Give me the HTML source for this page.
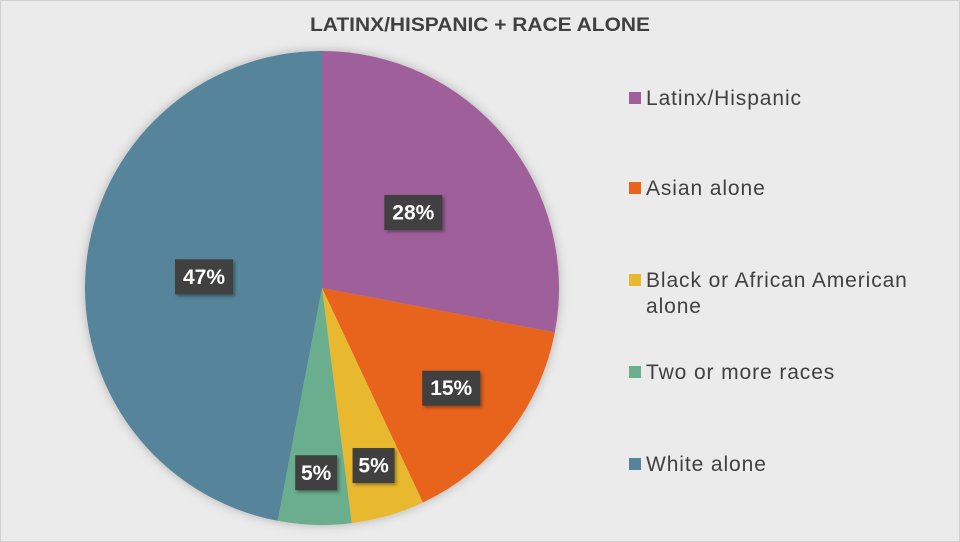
<!DOCTYPE html>
<html><head><meta charset="utf-8"><style>
html,body{margin:0;padding:0;background:#fff}
svg{display:block;font-family:"Liberation Sans",sans-serif}
</style></head><body>
<svg id="chart" width="960" height="542" viewBox="0 0 960 542">
<defs>
<filter id="sh" x="-20%" y="-20%" width="150%" height="150%"><feDropShadow dx="2" dy="2" stdDeviation="1.5" flood-color="#000" flood-opacity="0.35"/></filter>
<filter id="psh" x="-10%" y="-10%" width="120%" height="120%"><feDropShadow dx="0" dy="0" stdDeviation="5" flood-color="#000" flood-opacity="0.25"/></filter>
</defs>
<rect x="0.5" y="0.5" width="959" height="541" fill="#EBEBEB" stroke="#D0D0D0"/>
<text x="480" y="31" text-anchor="middle" font-size="19" font-weight="bold" fill="#404040" textLength="340" lengthAdjust="spacingAndGlyphs">LATINX/HISPANIC + RACE ALONE</text>
<g id="slices" filter="url(#psh)"></g>
<g id="labels"></g>
<g id="legend"></g>
</svg>
<script>
const categories = ["Latinx/Hispanic","Asian alone","Black or African American alone","Two or more races","White alone"];
const values = [28, 15, 5, 5, 47];
const valueLabels = ["28%","15%","5%","5%","47%"];
const colors = ["#9E5E9B","#E8641B","#E8B92E","#6AAE8E","#55849B"];
const NS="http://www.w3.org/2000/svg";
const cx=322, cy=288, r=237;
const total=values.reduce((a,b)=>a+b,0);
function pt(a,rad){return [cx+rad*Math.sin(a), cy-rad*Math.cos(a)];}
const gS=document.getElementById('slices'), gL=document.getElementById('labels'), gG=document.getElementById('legend');
let acc=0;
values.forEach((v,i)=>{
  const a0=acc/total*2*Math.PI, a1=(acc+v)/total*2*Math.PI; acc+=v;
  const p0=pt(a0,r), p1=pt(a1,r), large=(a1-a0)>Math.PI?1:0;
  const p=document.createElementNS(NS,'path');
  p.setAttribute('d',`M${cx},${cy} L${p0[0]},${p0[1]} A${r},${r} 0 ${large} 1 ${p1[0]},${p1[1]} Z`);
  p.setAttribute('fill',colors[i]);
  
  
  gS.appendChild(p);
  const frac=v/total;
  const mid=(a0+a1)/2, lr=(frac<0.1?0.78:(frac<0.25?0.69:0.5))*r;
  const c=pt(mid,lr);
  const w=valueLabels[i].length>2?58:42, h=35;
  const g=document.createElementNS(NS,'g');
  
  
  const rc=document.createElementNS(NS,'rect');
  rc.setAttribute('x',c[0]-w/2);rc.setAttribute('y',c[1]-h/2);
  rc.setAttribute('width',w);rc.setAttribute('height',h);
  rc.setAttribute('fill','#404040');rc.setAttribute('filter','url(#sh)');
  g.appendChild(rc);
  const t=document.createElementNS(NS,'text');
  t.setAttribute('x',c[0]);t.setAttribute('y',c[1]+7);
  t.setAttribute('text-anchor','middle');t.setAttribute('font-size','21');
  t.setAttribute('font-weight','bold');t.setAttribute('fill','#fff');
  t.textContent=valueLabels[i];
  g.appendChild(t);
  gL.appendChild(g);
});
const legY=[98,188,280,372,464];
categories.forEach((c,i)=>{
  const g=document.createElementNS(NS,'g');
  
  
  const s=document.createElementNS(NS,'rect');
  s.setAttribute('x',629);s.setAttribute('y',legY[i]-6);s.setAttribute('width',12);s.setAttribute('height',12);
  s.setAttribute('fill',colors[i]);
  g.appendChild(s);
  const lines = c==="Black or African American alone" ? ["Black or African American","alone"] : [c];
  lines.forEach((ln,k)=>{
    const t=document.createElementNS(NS,'text');
    t.setAttribute('x',646);t.setAttribute('y',legY[i]+7+k*26);
    t.setAttribute('font-size','21');t.setAttribute('fill','#404040');
    t.setAttribute('letter-spacing','0.9');
    t.textContent=ln;
    g.appendChild(t);
  });
  gG.appendChild(g);
});
</script>
</body></html>
